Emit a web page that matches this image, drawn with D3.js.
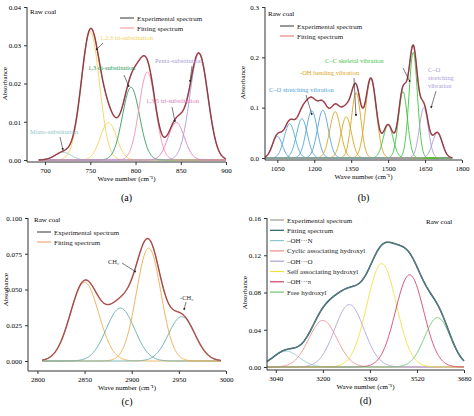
<!DOCTYPE html>
<html><head><meta charset="utf-8">
<script src="https://cdn.jsdelivr.net/npm/d3@7"></script>
<style>body{margin:0;background:#fff}text{font-family:"Liberation Serif","Times New Roman",serif}</style>
</head><body><svg id="c" width="474" height="416"></svg>
<script>
// peak parameters: [centre, height, sigma, colour]
const peaksA = [[720,0.002,9,"#8cc7c9"],[750,0.0335,10,"#f5cf5a"],[770,0.0098,9,"#f5cf5a"],[795,0.019,9.5,"#2e9a5e"],[813,0.023,9,"#f48fb1"],[845,0.0098,9,"#e07ab8"],[870,0.0278,10,"#a99bd6"]];
const peaksB = [[1050,0.043,20,"#4fa3d9"],[1100,0.068,22,"#4fa3d9"],[1150,0.078,22,"#4fa3d9"],[1190,0.094,22,"#4fa3d9"],[1235,0.095,22,"#4fa3d9"],[1285,0.092,22,"#d9a520"],[1330,0.082,21,"#d9a520"],[1370,0.13,19,"#d9a520"],[1430,0.158,22,"#d9a520"],[1500,0.065,20,"#3fc43f"],[1560,0.132,18,"#3fc43f"],[1602,0.21,17,"#3fc43f"],[1645,0.1,18,"#a99bd6"],[1700,0.05,20,"#a99bd6"]];
const peaksC = [[2850,0.055,15,"#f0a848"],[2888,0.037,15,"#5aa8a8"],[2918,0.079,13,"#f0a848"],[2953,0.031,14,"#5aa8a8"]];
const peaksD = [[3075,0.017,45,"#8cc7c9"],[3200,0.05,48,"#f08a8a"],[3290,0.067,50,"#a9a2d8"],[3400,0.111,50,"#f0e040"],[3495,0.099,48,"#d0406a"],[3590,0.053,44,"#6cc36c"]];

const panels = [
 {x0:27,x1:226,y0:7,y1:160,axisY:162,dom:[680,900],ticks:[700,750,800,850,900],ydom:[0,0.04],yticks:[0,0.01,0.02,0.03,0.04],fmt:".2f",peaks:peaksA,label:"(a)",ly:201,
  legend:[["Experimental spectrum","#555"],["Fitting spectrum","#f4a0b0"]],lx:120,lyy:18,exp:"#4a3a3a",fit:"#e06070",raw:[30,14],
  notes:[["1,2,3 tri-substitution",100,40,"#f5cf5a"],["1,3 di-substitution",88,70,"#2e9a5e"],["Penta-substitution",155,63,"#a99bd6"],["1,3,5 tri-substitution",146,103,"#e07ab8"],["Mono-substitution",30,134,"#8cc7c9"]],
  arrows:[[103,43,96,50],[124,75,129,87],[192,66,190,82],[172,107,175,122],[60,137,63,150]]},
 {x0:265,x1:462,y0:7,y1:158,axisY:160,dom:[1000,1800],ticks:[1050,1200,1350,1500,1650,1800],ydom:[0,0.3],yticks:[0,0.1,0.2,0.3],fmt:".1f",peaks:peaksB,label:"(b)",ly:201,
  legend:[["Experimental spectrum","#555"],["Fitting spectrum","#f08080"]],lx:280,lyy:26,exp:"#4a3a3a",fit:"#e06070",raw:[268,16],
  notes:[["C\u2013C skeletal vibration",325,63,"#3fc43f"],["-OH bending vibration",300,75,"#d9a520"],["C\u2013O stretching vibration",269,92,"#4fa3d9"],["C\u2013O",428,72,"#a99bd6"],["stretching",428,80,"#a99bd6"],["vibration",428,88,"#a99bd6"]],
  arrows:[[403,68,410,82],[354,78,356,116],[306,95,312,115],[436,91,431,108]]},
 {x0:28,x1:226,y0:218,y1:361,axisY:371,dom:[2790,3000],ticks:[2800,2850,2900,2950,3000],ydom:[0,0.1],yticks:[0,0.025,0.05,0.075,0.1],fmt:".3f",peaks:peaksC,label:"(c)",ly:405,
  legend:[["Experimental spectrum","#555"],["Fitting spectrum","#f0a878"]],lx:37,lyy:232,exp:"#6a3a4a",fit:"#e08070",raw:[34,222],
  notes:[["CH\u2082",108,264,"#333"],["-CH\u2083",180,300,"#333"]],
  arrows:[[122,263,136,272],[186,302,184,310]]},
 {x0:267,x1:464,y0:218,y1:367,axisY:370,dom:[3010,3680],ticks:[3040,3200,3360,3520,3680],ydom:[0,0.16],yticks:[0,0.04,0.08,0.12,0.16],fmt:".2f",peaks:peaksD,label:"(d)",ly:404,
  legend:[["Experimental spectrum","#999"],["Fitting spectrum","#1f5f6a"],["\u2013OH\u00b7\u00b7\u00b7N","#8cc7c9"],["Cyclic associating hydroxyl","#f08a8a"],["\u2013OH\u00b7\u00b7\u00b7O","#a9a2d8"],["Self associating hydroxyl","#f0e040"],["\u2013OH\u00b7\u00b7\u00b7\u03c0","#d0406a"],["Free hydroxyl","#6cc36c"]],lx:270,lyy:220,lstep:10.3,exp:"#888",fit:"#1f5f6a",raw:[426,224],
  notes:[],arrows:[]}
];

const svg = d3.select("#c");
svg.append("defs").append("marker").attr("id", "ah").attr("viewBox", "0 0 6 6").attr("refX", 5).attr("refY", 3)
  .attr("markerWidth", 4).attr("markerHeight", 4).attr("orient", "auto")
  .append("path").attr("d", "M0,0L6,3L0,6Z").attr("fill", "#222");
const gauss = (p, x) => p[1] * Math.exp(-((x - p[0]) ** 2) / (2 * p[2] * p[2]));

panels.forEach(P => {
  const x = d3.scaleLinear().domain(P.dom).range([P.x0, P.x1]);
  const y = d3.scaleLinear().domain(P.ydom).range([P.y1, P.y0]);
  const g = svg.append("g");
  const first = P.peaks[0], last = P.peaks[P.peaks.length - 1];
  const lo = first[0] - 3 * first[2], hi = last[0] + 3 * last[2];
  const xs = d3.range(Math.max(lo, P.dom[0]), Math.min(hi, P.dom[1]) + 0.01, (P.dom[1] - P.dom[0]) / 400);
  const line = d3.line().x(d => x(d[0])).y(d => y(d[1]));
  P.peaks.forEach(p => {
    g.append("path").attr("d", line(xs.map(v => [v, gauss(p, v)]))).attr("fill", "none").attr("stroke", p[3]).attr("stroke-width", 0.9);
  });
  const sum = xs.map(v => [v, d3.sum(P.peaks, p => gauss(p, v))]);
  g.append("path").attr("d", line(sum)).attr("fill", "none").attr("stroke", P.fit).attr("stroke-width", 1.6);
  g.append("path").attr("d", line(sum)).attr("fill", "none").attr("stroke", P.exp).attr("stroke-width", 0.8);
  // axes
  const xa = g.append("g").attr("transform", `translate(0,${P.axisY})`)
    .call(d3.axisBottom(x).tickValues(P.ticks).tickFormat(d3.format("d")).tickSize(3).tickSizeOuter(0));
  xa.select(".domain").attr("d", `M${P.x0},0H${P.x1}`);
  const ya = g.append("g").attr("transform", `translate(${P.x0},0)`)
    .call(d3.axisLeft(y).tickValues(P.yticks).tickFormat(d3.format(P.fmt)).tickSize(3).tickSizeOuter(0));
  ya.select(".domain").attr("d", `M0,${P.axisY}V${P.y0}`);
  g.selectAll(".tick text").attr("font-size", 7).attr("font-family", "Liberation Serif");
  g.selectAll(".domain,.tick line").attr("stroke", "#333");
  g.append("text").attr("x", (P.x0 + P.x1) / 2).attr("y", P.axisY + 19).attr("text-anchor", "middle").attr("font-size", 7).text("Wave number (cm\u207b\u00b9)");
  g.append("text").attr("transform", `translate(${P.x0 - 20},${(P.y0 + P.y1) / 2}) rotate(-90)`).attr("text-anchor", "middle").attr("font-size", 7).text("Absorbance");
  g.append("text").attr("x", (P.x0 + P.x1) / 2).attr("y", P.ly).attr("text-anchor", "middle").attr("font-size", 10).text(P.label);
  g.append("text").attr("x", P.raw[0]).attr("y", P.raw[1]).attr("font-size", 7).text("Raw coal");
  const st = P.lstep || 10;
  P.legend.forEach((l, i) => {
    const yy = P.lyy + i * st;
    g.append("line").attr("x1", P.lx).attr("x2", P.lx + 14).attr("y1", yy).attr("y2", yy).attr("stroke", l[1]).attr("stroke-width", 1.2);
    g.append("text").attr("x", P.lx + 17).attr("y", yy + 2.5).attr("font-size", 7).attr("fill", "#222").text(l[0]);
  });
  P.notes.forEach(n => g.append("text").attr("x", n[1]).attr("y", n[2]).attr("font-size", 6.5).attr("fill", n[3]).text(n[0]));
  P.arrows.forEach(a => g.append("line").attr("x1", a[0]).attr("y1", a[1]).attr("x2", a[2]).attr("y2", a[3])
    .attr("stroke", "#222").attr("stroke-width", 0.6).attr("marker-end", "url(#ah)"));
});
</script></body></html>
